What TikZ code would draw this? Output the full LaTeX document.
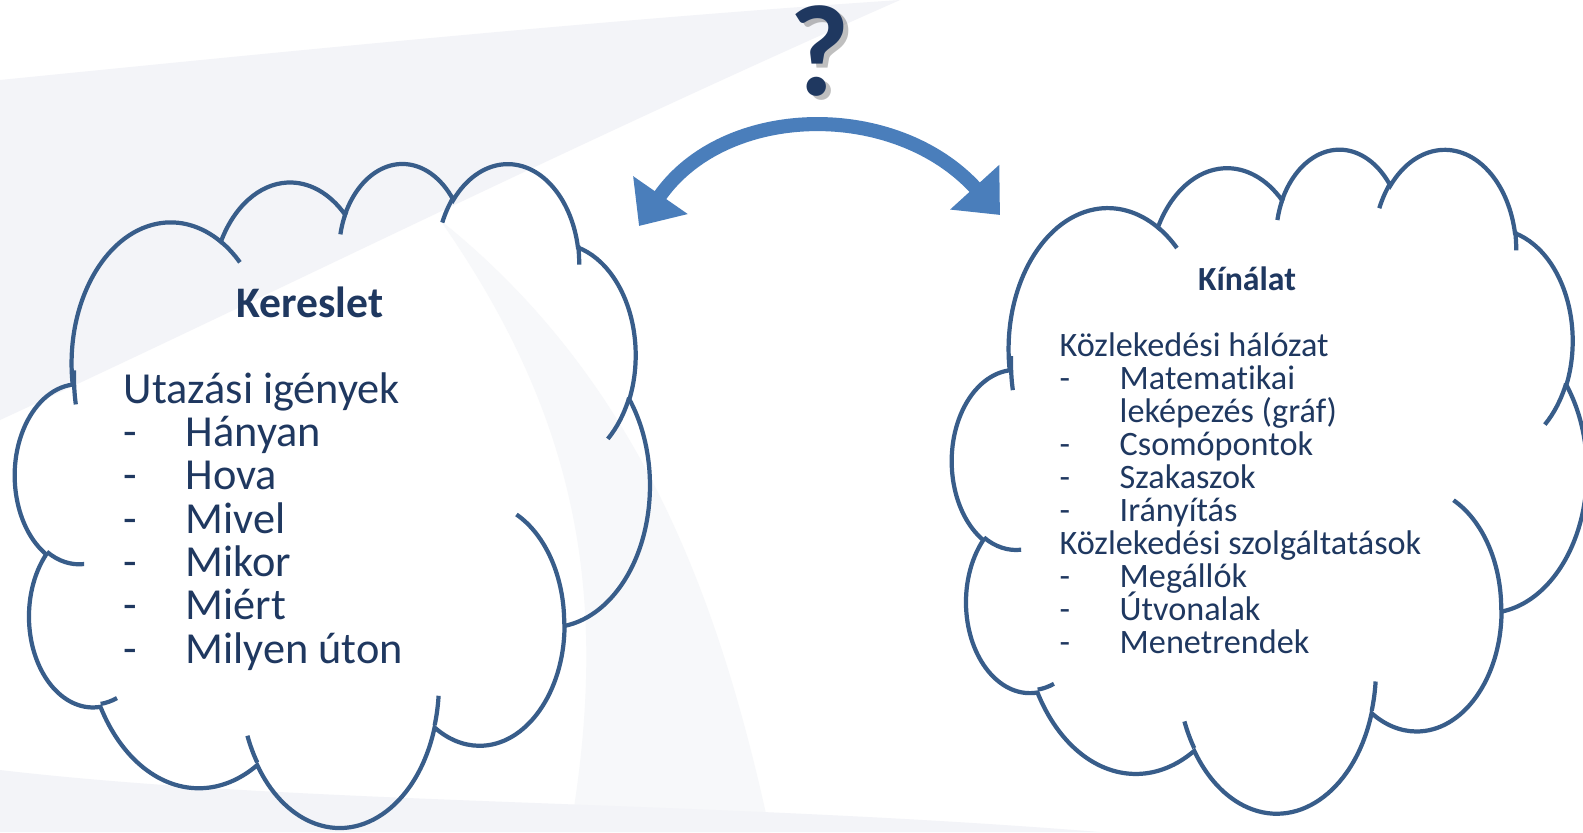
\documentclass[tikz,border=0pt]{standalone}
\usepackage{fontspec}
\setmainfont{Carlito}[Ligatures=CommonOff]
\usetikzlibrary{arrows.meta}

\definecolor{cloudblue}{RGB}{56,93,138}
\definecolor{textnavy}{RGB}{31,56,96}
\definecolor{arrowblue}{RGB}{74,126,187}
\definecolor{swoosh}{RGB}{243,244,248}
\definecolor{swooshlight}{RGB}{247,248,250}

\tikzset{
  bump/.style n args={4}{insert path={arc[x radius=#1,y radius=#2,
      start angle={vis(#3,#1,#2)},end angle={vis(#3+#4,#1,#2)}]}},
  cloudline/.style={draw=cloudblue,line width=1.2pt},
  cloud/.pic={
    \draw[cloudline] (3.9,14.37)
      [bump={6.753}{9.19}{-190.4875}{123.7805}]
      [bump={5.333}{7.267}{-144.1024}{89.9452}]
      [bump={4.365}{5.945}{-145.8079}{99.7230}]
      [bump={4.857}{6.595}{-130.9861}{117.2417}]
      [bump={5.333}{7.273}{-78.7089}{109.0269}]
      [bump={6.775}{9.22}{-46.2673}{130.2690}]
      [bump={5.785}{7.867}{0.6250}{114.0333}]
      [bump={6.752}{9.215}{22.4516}{115.1726}]
      [bump={7.72}{10.543}{66.2426}{75.7110}]
      [bump={4.36}{5.918}{-274.9421}{146.7356}]
      [bump={4.345}{5.945}{-246.8285}{152.5189}] -- cycle;
    \foreach \sx/\sy/\rx/\ry/\sa/\sb in {
        4.693/26.177/4.345/5.945/86.7420/26.4295,
        6.928/34.899/4.36/5.918/73.6105/11.4475,
        16.478/39.09/6.752/9.215/137.6242/14.0811,
        28.827/34.751/6.752/9.215/6.4533/15.9984,
        34.129/22.954/5.785/7.867/-70.2924/70.9174,
        41.798/15.354/5.333/7.273/30.3180/27.7515,
        38.324/5.426/4.857/6.595/-13.7443/14.8589,
        29.078/3.952/4.857/6.595/-149.1815/18.1954,
        22.141/4.72/4.365/5.945/-163.4943/19.0159,
        14/5.192/6.753/9.19/-66.7070/12.3194,
        4.127/15.789/6.753/9.19/165.1495/18.7861}
      \draw[cloudline] (\sx,\sy) [bump={\rx}{\ry}{\sa}{\sb}];
  },
  heading/.style={font=\bfseries, text=textnavy, anchor=base, inner sep=0pt},
  bigitem/.style={font=\fontsize{12.6}{14}\selectfont, text=textnavy, anchor=base west, inner sep=0pt},
  smallitem/.style={font=\fontsize{9.73}{11}\selectfont, text=textnavy, anchor=base west, inner sep=0pt},
  linkarrow/.style={draw=arrowblue, line width=4pt,
      arrows={Triangle[width=18.2pt,length=10.7pt]-Triangle[width=18.2pt,length=10.7pt]}},
  qmark/.style={font=\fontsize{37}{40}\selectfont\bfseries, anchor=base, inner sep=0pt}
}

\begin{document}
\begin{tikzpicture}[x=0.01cm, y=-0.01cm,
    declare function={vis(\t,\a,\b)=(\t)+Mod(atan2((\a)*sin(\t),(\b)*cos(\t))-(\t)+180,360)-180;}]
\useasboundingbox (0,0) rectangle (1583,832);
\clip (0,0) rectangle (1583,832);
\fill[white] (0,0) rectangle (1583,832);
\fill[swoosh] (0,80) .. controls (300,50) and (600,20) .. (900,0)
  .. controls (560,150) and (260,300) .. (0,420) -- cycle;
\fill[swooshlight] (440,220) .. controls (640,380) and (720,600) .. (770,832)
  -- (570,832) .. controls (610,600) and (580,420) .. (440,220) -- cycle;
\fill[swoosh] (0,770) .. controls (300,805) and (700,800) .. (1100,832) -- (0,832) -- cycle;

\pic (kcloud) at (15.2,161.8) [xscale=14.687, yscale=15.365] {cloud};
\pic (ncloud) at (952.2,147.5) [xscale=14.687, yscale=15.365] {cloud};

\node[heading, font=\fontsize{12.4}{14}\selectfont\bfseries] (kereslet) at (310,317.4) {Kereslet};
\node[bigitem] (igenyek) at (123,403.2) {Utazási igények};
\foreach \word [count=\i] in {Hányan,Hova,Mivel,Mikor,Miért,Milyen úton} {
  \node[bigitem] (dashL\i) at (123,403.2+43.3*\i) {-};
  \node[bigitem] (itemL\i) at (185,403.2+43.3*\i) {\word};
}

\node[heading, font=\fontsize{9.6}{11}\selectfont\bfseries] (kinalat) at (1247,290) {Kínálat};
\node[smallitem] (halozat) at (1059,356) {Közlekedési hálózat};
\node[smallitem] (szolg) at (1059,356+33.1*6) {Közlekedési szolgáltatások};
\node[smallitem] (lekepezes) at (1119,356+33.1*2) {leképezés (gráf)};
\foreach \k/\word in {1/Matematikai,3/Csomópontok,4/Szakaszok,5/Irányítás,7/Megállók,8/Útvonalak,9/Menetrendek} {
  \node[smallitem] (dashR\k) at (1059,356+33.1*\k) {-};
  \node[smallitem] (itemR\k) at (1119,356+33.1*\k) {\word};
}

\coordinate (tipL) at (639,226);
\coordinate (tipR) at (1000,215);
\draw[linkarrow] (tipL) .. controls (724.5,102.7) and (895,99.6) .. (tipR);

\node[qmark, text=black, opacity=0.25] (qshadow) at (825,99) {?};
\node[qmark, text=textnavy] (qmain) at (820,95) {?};
\end{tikzpicture}
\end{document}
